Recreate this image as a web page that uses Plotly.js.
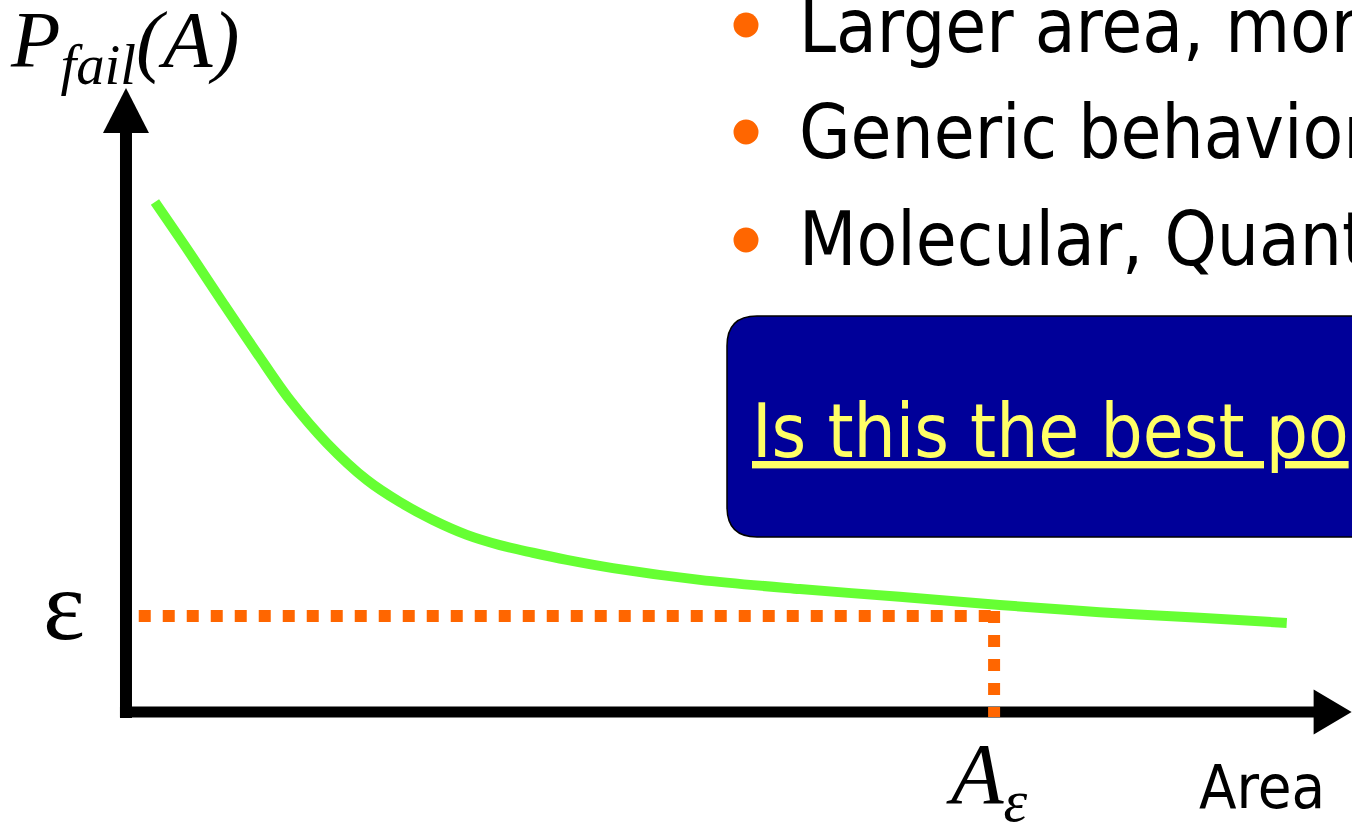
<!DOCTYPE html>
<html>
<head>
<meta charset="utf-8">
<script src="https://cdn.plot.ly/plotly-3.0.1.min.js"></script>
<style>
  html, body { margin: 0; padding: 0; background: #ffffff; }
  #chart { width: 1352px; height: 826px; }
</style>
</head>
<body>
<div id="chart"></div>
<script>
// ---- data ----
const areaValues  = [0.250, 0.552, 0.837, 1.130, 1.415, 1.734, 2.079, 2.363, 2.648, 2.941, 3.226, 3.511, 3.804, 4.201, 4.951, 5.814, 6.676, 7.539, 8.401, 9.264, 10.015];
const pFailValues = [0.996, 0.896, 0.799, 0.701, 0.609, 0.525, 0.453, 0.410, 0.375, 0.346, 0.326, 0.311, 0.297, 0.281, 0.258, 0.240, 0.225, 0.209, 0.195, 0.184, 0.174];
const epsilonLevel = 0.1875;
const areaEpsilon = 7.49;
const epsLineX = [0.11, 7.46];
const epsDropY = [0.197, -0.01];
const bulletTexts = ["Larger area, mor", "Generic behavior", "Molecular, Quant"];
const boxText = "Is this the best po";
const yLabel = "<i>P<sub>fail</sub>(A)</i>";
const xLabel = "Area";
const epsLabel = "ε";
const aEpsLabel = "<i>A<sub>ε</sub></i>";

// ---- helpers for page (paper) positions ----
const W = 1352, H = 826;
const px = v => v / W;
const py = v => 1 - v / H;

const ORANGE = '#FF6600';
const GREEN = '#66FF33';

const traces = [
  {
    x: areaValues, y: pFailValues, type: 'scatter', mode: 'lines',
    line: { color: GREEN, width: 10, shape: 'spline', smoothing: 1.0 },
    hoverinfo: 'skip'
  },
  {
    x: epsLineX, y: [epsilonLevel, epsilonLevel], type: 'scatter', mode: 'lines',
    line: { color: ORANGE, width: 12, dash: '12px,12px' }, hoverinfo: 'skip'
  },
  {
    x: [areaEpsilon, areaEpsilon], y: epsDropY, type: 'scatter', mode: 'lines',
    line: { color: ORANGE, width: 12, dash: '12px,12px' }, hoverinfo: 'skip'
  }
];

// rounded box path in paper coords
function roundedBox(x0, y0, x1, y1, r) {
  const rx = r / W, ry = r / H;
  const X0 = px(x0), X1 = px(x1), Yt = py(y0), Yb = py(y1);
  return `M ${X0 + rx},${Yt} L ${X1 - rx},${Yt} Q ${X1},${Yt} ${X1},${Yt - ry} ` +
         `L ${X1},${Yb + ry} Q ${X1},${Yb} ${X1 - rx},${Yb} L ${X0 + rx},${Yb} ` +
         `Q ${X0},${Yb} ${X0},${Yb + ry} L ${X0},${Yt - ry} Q ${X0},${Yt} ${X0 + rx},${Yt} Z`;
}

const shapes = [
  // y axis
  { type: 'line', layer: 'below', xref: 'x', yref: 'y', x0: 0, x1: 0, y0: -0.0117, y1: 1.14, line: { color: '#000', width: 12 } },
  { type: 'path', layer: 'below', xref: 'x', yref: 'y', path: 'M -0.1984,1.1309 L 0,1.2188 L 0.1984,1.1309 Z', fillcolor: '#000', line: { width: 0 } },
  // x axis
  { type: 'line', layer: 'below', xref: 'x', yref: 'y', x0: -0.052, x1: 10.26, y0: 0, y1: 0, line: { color: '#000', width: 11 } },
  { type: 'path', layer: 'below', xref: 'x', yref: 'y', path: 'M 10.247,0.044 L 10.575,0 L 10.247,-0.044 Z', fillcolor: '#000', line: { width: 0 } },
  // blue box
  { type: 'path', xref: 'paper', yref: 'paper', path: roundedBox(727, 316, 1385, 537, 30), fillcolor: '#000099', line: { color: '#000', width: 1.5 } },
  // bullets
  { type: 'circle', xref: 'paper', yref: 'paper', x0: px(733.5), x1: px(758.5), y0: py(12.5), y1: py(37.5), fillcolor: ORANGE, line: { width: 0 } },
  { type: 'circle', xref: 'paper', yref: 'paper', x0: px(733.5), x1: px(758.5), y0: py(119.5), y1: py(144.5), fillcolor: ORANGE, line: { width: 0 } },
  { type: 'circle', xref: 'paper', yref: 'paper', x0: px(733.5), x1: px(758.5), y0: py(227.5), y1: py(252.5), fillcolor: ORANGE, line: { width: 0 } }
];

const SERIF = '"Liberation Serif", "Times New Roman", serif';
const SANS = '"DejaVu Sans Condensed", "DejaVu Sans", sans-serif';

function ann(text, x, y, size, family, color, xanchor) {
  return { text, xref: 'paper', yref: 'paper', x: px(x), y: py(y), xanchor: xanchor || 'left', yanchor: 'middle',
           showarrow: false, font: { size, family, color: color || '#000' }, borderpad: 0 };
}

const annotations = [
  ann(yLabel, 9, 45, 81, SERIF),
  ann(epsLabel, 64, 605, 100, SERIF, '#000', 'center'),
  ann(aEpsLabel, 945, 780, 86, SERIF),
  ann(xLabel, 1198, 786, 61, SANS),
  ann(bulletTexts[0], 798, 26, 74, SANS),
  ann(bulletTexts[1], 798, 132, 74, SANS),
  ann(bulletTexts[2], 798, 239, 74, SANS),
  ann('<u>' + boxText + '</u>', 751, 431, 74, SANS, '#FFFF66')
];

const layout = {
  width: W, height: H,
  margin: { l: 0, r: 0, t: 0, b: 0, pad: 0 },
  paper_bgcolor: '#ffffff', plot_bgcolor: '#ffffff',
  showlegend: false,
  xaxis: { range: [-1.087, 10.578], visible: false, fixedrange: true },
  yaxis: { range: [-0.2227, 1.3906], visible: false, fixedrange: true },
  shapes, annotations
};

Plotly.newPlot('chart', traces, layout, { displayModeBar: false, staticPlot: true });
</script>
</body>
</html>
